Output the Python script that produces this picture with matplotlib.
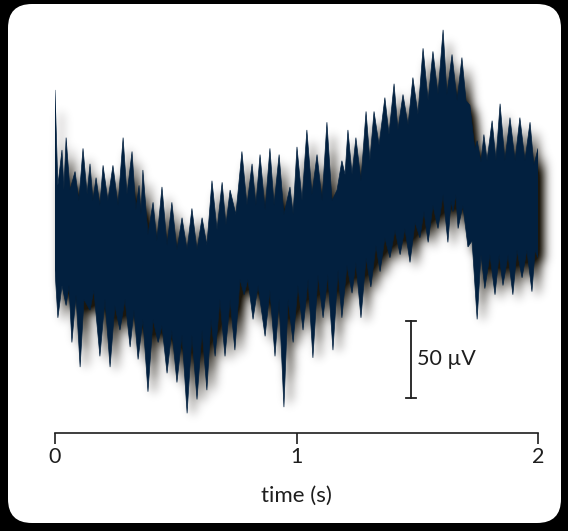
import numpy as np
import matplotlib.pyplot as plt
from matplotlib.patches import FancyBboxPatch
from matplotlib.path import Path

plt.rcParams['font.family'] = ['Lato', 'DejaVu Sans']

# upper and lower edge of the recorded trace (time in s, amplitude in uV)
upper_t = [0.000, 0.012, 0.029, 0.037, 0.046, 0.062, 0.083, 0.099, 0.116, 0.133,
           0.145, 0.157, 0.170, 0.186, 0.199, 0.219, 0.240, 0.261, 0.282, 0.298,
           0.319, 0.335, 0.348, 0.356, 0.364, 0.385, 0.406, 0.422, 0.443, 0.464,
           0.484, 0.505, 0.526, 0.547, 0.567, 0.588, 0.609, 0.629, 0.650, 0.671,
           0.692, 0.708, 0.725, 0.749, 0.774, 0.795, 0.816, 0.832, 0.849, 0.870,
           0.890, 0.907, 0.928, 0.948, 0.973, 0.986, 1.002, 1.023, 1.043, 1.064,
           1.085, 1.106, 1.126, 1.147, 1.168, 1.188, 1.201, 1.213, 1.230, 1.246,
           1.267, 1.288, 1.304, 1.321, 1.342, 1.366, 1.383, 1.404, 1.420, 1.441,
           1.462, 1.482, 1.503, 1.524, 1.545, 1.565, 1.586, 1.607, 1.623, 1.644,
           1.665, 1.685, 1.702, 1.718, 1.739, 1.748, 1.764, 1.776, 1.789, 1.810,
           1.826, 1.843, 1.863, 1.884, 1.905, 1.925, 1.946, 1.967, 1.983, 2.000]
upper_uv = [104, 42, 65, 39, 73, 39, 51, 32, 66, 36,
            56, 32, 47, 29, 55, 32, 55, 29, 73, 36,
            64, 26, 42, 23, 52, 10, 31, 6, 41, 3,
            31, 0, 21, 0, 27, 0, 21, 3, 45, 13,
            44, 16, 39, 23, 64, 29, 56, 29, 62, 26,
            66, 29, 62, 23, 41, 23, 67, 32, 78, 36,
            62, 32, 83, 32, 39, 58, 49, 78, 49, 73,
            45, 90, 58, 90, 68, 99, 75, 108, 78, 101,
            81, 112, 88, 131, 97, 129, 101, 143, 101, 127,
            97, 125, 97, 94, 65, 71, 57, 75, 58, 84,
            58, 95, 58, 86, 58, 86, 58, 83, 55, 66]

lower_t = [0.000, 0.012, 0.029, 0.046, 0.058, 0.070, 0.087, 0.104, 0.120, 0.145,
           0.161, 0.186, 0.207, 0.228, 0.248, 0.269, 0.290, 0.311, 0.327, 0.344,
           0.364, 0.385, 0.406, 0.427, 0.443, 0.464, 0.484, 0.505, 0.526, 0.547,
           0.567, 0.588, 0.609, 0.629, 0.646, 0.663, 0.683, 0.704, 0.725, 0.745,
           0.766, 0.783, 0.799, 0.820, 0.841, 0.870, 0.890, 0.911, 0.928, 0.948,
           0.965, 0.986, 1.006, 1.027, 1.048, 1.068, 1.089, 1.110, 1.130, 1.151,
           1.172, 1.188, 1.209, 1.230, 1.246, 1.267, 1.288, 1.308, 1.329, 1.346,
           1.366, 1.387, 1.408, 1.429, 1.449, 1.470, 1.491, 1.511, 1.528, 1.545,
           1.565, 1.586, 1.607, 1.627, 1.640, 1.648, 1.660, 1.669, 1.689, 1.710,
           1.727, 1.748, 1.764, 1.780, 1.801, 1.822, 1.839, 1.855, 1.876, 1.896,
           1.913, 1.934, 1.954, 1.975, 1.988, 2.000]
lower_uv = [-13, -44, -23, -36, -23, -60, -29, -76, -32, -39,
            -26, -69, -32, -76, -36, -52, -32, -63, -39, -71,
            -45, -92, -45, -60, -49, -80, -52, -86, -55, -106,
            -55, -97, -52, -91, -45, -69, -32, -69, -32, -65,
            -19, -29, -19, -45, -23, -56, -26, -69, -32, -102,
            -32, -60, -23, -52, -19, -70, -16, -44, -16, -65,
            -13, -44, -10, -28, -8, -44, -5, -24, 3, -14,
            8, -5, 13, -3, 14, -8, 18, 8, 25, 5,
            29, 14, 36, 5, 32, 25, 36, 14, 29, 2,
            6, -45, -3, -25, -3, -29, -3, -23, -3, -29,
            0, -18, 0, -27, 0, -5]

xticks = [0, 1, 2]
scale_uv = 50

trace_color = '#02203f'
ink = '#1e1e1e'


def blur(img, sigma):
    r = int(3 * sigma)
    k = np.exp(-0.5 * (np.arange(-r, r + 1) / sigma) ** 2)
    k /= k.sum()
    img = np.apply_along_axis(lambda m: np.convolve(m, k, mode='same'), 0, img)
    img = np.apply_along_axis(lambda m: np.convolve(m, k, mode='same'), 1, img)
    return img


fig = plt.figure(figsize=(5.68, 5.31), dpi=100, facecolor='black')
panel = FancyBboxPatch((0.08, 0.08), 5.53, 5.19,
                       boxstyle='round,pad=0,rounding_size=0.24',
                       transform=fig.dpi_scale_trans,
                       facecolor='white', edgecolor='none', zorder=-5)
fig.add_artist(panel)

ax = fig.add_axes([55 / 568, 98 / 531, 483 / 568, 413 / 531])
ax.set_facecolor('none')
ax.set_xlim(0, 2)
ax.set_ylim(-118.8, 149.4)
ax.set_autoscale_on(False)

poly_t = np.concatenate([upper_t, lower_t[::-1]])
poly_v = np.concatenate([upper_uv, lower_uv[::-1]])

# soft drop shadow: rasterise the shifted outline and blur it
disp = ax.transData.transform(np.column_stack([poly_t, poly_v]))
disp = disp + [6, -7]
x0, x1 = int(disp[:, 0].min()) - 25, int(disp[:, 0].max()) + 25
y0, y1 = int(disp[:, 1].min()) - 25, int(disp[:, 1].max()) + 25
gx, gy = np.meshgrid(np.arange(x0, x1) + 0.5, np.arange(y0, y1) + 0.5)
inside = Path(disp).contains_points(np.column_stack([gx.ravel(), gy.ravel()]))
mask = blur(inside.reshape(gx.shape).astype(float), 5)
shadow = np.zeros(mask.shape + (4,))
shadow[..., 0] = 0.06
shadow[..., 1] = 0.04
shadow[..., 3] = np.clip(mask * 1.15, 0, 0.95)
inv = ax.transData.inverted()
(ex0, ey0), (ex1, ey1) = inv.transform([(x0, y0), (x1, y1)])
ax.imshow(shadow, origin='lower', extent=(ex0, ex1, ey0, ey1), aspect='auto',
          interpolation='bilinear', zorder=1, clip_on=False)

ax.fill(poly_t, poly_v, facecolor=trace_color, edgecolor=trace_color, lw=0.5, zorder=3)

# scale bar
sb_t = 1.474
sb_bottom = -96
ax.plot([sb_t, sb_t], [sb_bottom, sb_bottom + scale_uv], color=ink, lw=1.3, clip_on=False)
for y in [sb_bottom, sb_bottom + scale_uv]:
    ax.plot([sb_t - 0.02, sb_t + 0.02], [y, y], color=ink, lw=1.3, clip_on=False)
ax.text(sb_t + 0.027, sb_bottom + scale_uv / 2, f'{scale_uv} \u00b5V', fontsize=15.5,
        ha='left', va='center', color=ink)

for s in ['left', 'top', 'right']:
    ax.spines[s].set_visible(False)
ax.spines['bottom'].set_color(ink)
ax.spines['bottom'].set_linewidth(1.2)
ax.set_yticks([])
ax.set_xticks(xticks)
ax.set_xticklabels([str(v) for v in xticks])
ax.tick_params(axis='x', direction='out', length=8, width=1.2, pad=2,
               labelsize=15.5, colors=ink)
ax.set_xlabel('time (s)', fontsize=16, labelpad=14, color=ink)

fig.savefig('out.png', dpi=100, facecolor='black')
